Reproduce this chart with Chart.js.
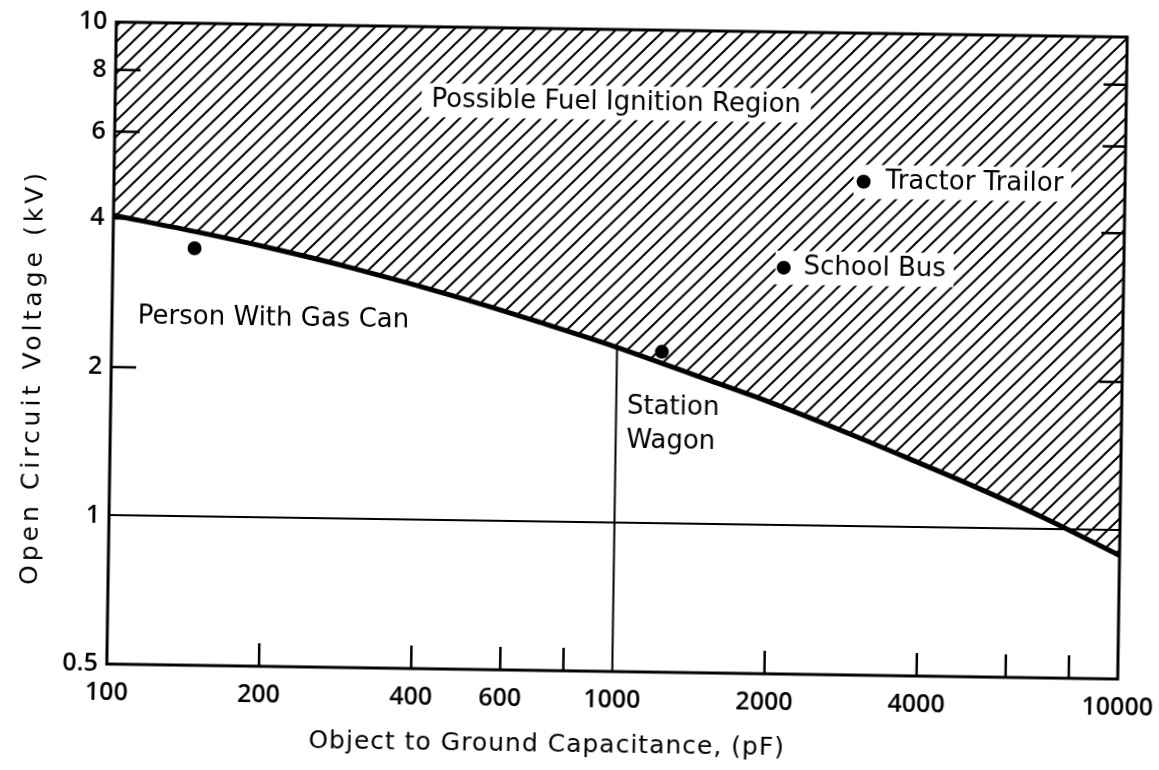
<!DOCTYPE html>
<html>
<head>
<meta charset="utf-8">
<script src="https://cdn.jsdelivr.net/npm/chart.js@4/dist/chart.umd.min.js"></script>
<style>
  html, body { margin: 0; padding: 0; background: #fff; overflow: hidden; }
  #chart { display: block; transform: rotate(0.85deg); }
</style>
</head>
<body>
<canvas id="chart" width="1159" height="770"></canvas>
<script>
// boundary curve: open circuit voltage (kV) vs object capacitance (pF)
const curveX = [100, 150, 200, 300, 500, 700, 1000, 1500, 2000, 3000, 4000, 5000, 7000, 10000];
const curveY = [4.06, 3.76, 3.54, 3.22, 2.81, 2.54, 2.27, 1.97, 1.78, 1.52, 1.35, 1.23, 1.06, 0.89];

// plotted objects
const objectNames = ["Person With Gas Can", "Station Wagon", "School Bus", "Tractor Trailor"];
const objectX = [145, 1227, 2125, 3040];
const objectY = [3.5, 2.23, 3.33, 5.0];

// vertical divider at 1000 pF up to the curve
const dividerX = [1000, 1000];
const dividerY = [0.5, 2.27];

// axes
const xTickValues = [100, 200, 400, 600, 800, 1000, 2000, 4000, 6000, 8000, 10000];
const xTickLabels = [100, 200, 400, 600, 1000, 2000, 4000, 10000];
const xMarks = [200, 400, 600, 800, 2000, 4000, 6000, 8000];
const yTickValues = [0.5, 1, 2, 4, 6, 8, 10];
const yMarks = [2, 4, 6, 8];

// text notes
const noteText = ["Possible Fuel Ignition Region", "Tractor Trailor", "School Bus", "Person With Gas Can", "Station", "Wagon"];
const noteX = [980, 3360, 2324, 112.5, 1050, 1050];
const noteY = [7.1, 5.0, 3.33, 2.53, 1.72, 1.47];
const noteAlign = ["center", "left", "left", "left", "left", "left"];
const noteBoxPad = [10, 32, 28, 0, 0, 0];

const xTitle = "Object to Ground Capacitance, (pF)";
const yTitle = "Open Circuit Voltage (kV)";

const canvas = document.getElementById("chart");
const ctx = canvas.getContext("2d");

// diagonal hatch
const tile = document.createElement("canvas");
tile.width = 16;
tile.height = 16;
const t = tile.getContext("2d");
t.strokeStyle = "#000";
t.lineWidth = 2;
t.beginPath();
t.moveTo(0, 16); t.lineTo(16, 0);
t.moveTo(-4, 4); t.lineTo(4, -4);
t.moveTo(12, 20); t.lineTo(20, 12);
t.stroke();
const hatch = ctx.createPattern(tile, "repeat");

const noteFont = '26px "DejaVu Sans"';

const figure = {
  id: "figure",
  beforeDatasetsDraw(chart) {
    const c = chart.ctx, xs = chart.scales.x, ys = chart.scales.y;
    c.save();
    c.font = noteFont;
    c.fillStyle = "#fff";
    noteText.forEach((txt, i) => {
      if (!noteBoxPad[i]) return;
      const w = c.measureText(txt).width;
      const px = xs.getPixelForValue(noteX[i]);
      const py = ys.getPixelForValue(noteY[i]);
      const left = noteAlign[i] === "center" ? px - w / 2 - noteBoxPad[i] : px - noteBoxPad[i];
      const right = noteAlign[i] === "center" ? px + w / 2 + 10 : px + w + 8;
      c.fillRect(left, py - 17, right - left, 34);
    });
    c.restore();
  },
  afterDatasetsDraw(chart) {
    const c = chart.ctx, a = chart.chartArea, xs = chart.scales.x, ys = chart.scales.y;
    c.save();
    c.strokeStyle = "#000";
    c.lineWidth = 3;
    c.strokeRect(a.left, a.top, a.right - a.left, a.bottom - a.top);
    c.lineWidth = 2.5;
    c.beginPath();
    yMarks.forEach(v => {
      const py = ys.getPixelForValue(v);
      c.moveTo(a.left, py); c.lineTo(a.left + 25, py);
      c.moveTo(a.right, py); c.lineTo(a.right - 23, py);
    });
    xMarks.forEach(v => {
      const px = xs.getPixelForValue(v);
      c.moveTo(px, a.bottom); c.lineTo(px, a.bottom - 23);
    });
    c.stroke();

    c.font = noteFont;
    c.fillStyle = "#000";
    c.textBaseline = "middle";
    noteText.forEach((txt, i) => {
      c.textAlign = noteAlign[i];
      c.fillText(txt, xs.getPixelForValue(noteX[i]), ys.getPixelForValue(noteY[i]));
    });
    c.restore();
  },
  afterDraw(chart) {
    const c = chart.ctx;
    c.save();
    c.fillStyle = "#000";
    c.textAlign = "center";
    c.textBaseline = "middle";
    c.font = '25px "DejaVu Sans"';
    c.letterSpacing = "1px";
    c.fillText(xTitle, 552, 745);
    c.translate(33, 385);
    c.rotate(-Math.PI / 2);
    c.letterSpacing = "4px";
    c.fillText(yTitle, 0, 0);
    c.restore();
  }
};

const tickFont = { family: "Open Sans", size: 25, weight: 600 };

new Chart(ctx, {
  type: "line",
  data: {
    datasets: [
      {
        label: "Ignition threshold",
        data: curveX.map((x, i) => ({ x: x, y: curveY[i] })),
        borderColor: "#000",
        borderWidth: 5,
        pointRadius: 0,
        cubicInterpolationMode: "monotone",
        fill: "end",
        backgroundColor: hatch
      },
      {
        label: "Divider",
        data: dividerX.map((x, i) => ({ x: x, y: dividerY[i] })),
        borderColor: "#000",
        borderWidth: 2,
        pointRadius: 0,
        fill: false
      },
      {
        type: "scatter",
        label: "Objects",
        data: objectX.map((x, i) => ({ x: x, y: objectY[i], name: objectNames[i] })),
        backgroundColor: "#000",
        borderWidth: 0,
        pointRadius: 7
      }
    ]
  },
  options: {
    responsive: false,
    animation: false,
    layout: { padding: { top: 29, right: 37, left: 8, bottom: 8 } },
    plugins: {
      legend: { display: false },
      tooltip: { enabled: false },
      filler: { drawTime: "beforeDatasetsDraw" }
    },
    scales: {
      x: {
        type: "logarithmic",
        min: 100,
        max: 10000,
        afterBuildTicks: s => { s.ticks = xTickValues.map(v => ({ value: v })); },
        afterFit: s => { s.height = 91; s.paddingLeft = 0; s.paddingRight = 0; },
        ticks: {
          autoSkip: false,
          maxRotation: 0,
          padding: 14,
          color: "#000",
          font: tickFont,
          callback: v => xTickLabels.includes(v) ? String(v) : ""
        },
        grid: { display: false, drawTicks: false },
        border: { display: false }
      },
      y: {
        type: "logarithmic",
        min: 0.5,
        max: 10,
        afterBuildTicks: s => { s.ticks = yTickValues.map(v => ({ value: v })); },
        afterFit: s => { s.width = 103; },
        ticks: {
          autoSkip: false,
          padding: 9,
          color: "#000",
          font: tickFont,
          callback: v => String(v)
        },
        grid: {
          drawTicks: false,
          lineWidth: 2,
          color: c => c.tick && c.tick.value === 1 ? "#000" : "rgba(0,0,0,0)"
        },
        border: { display: false }
      }
    }
  },
  plugins: [figure]
});
</script>
</body>
</html>
